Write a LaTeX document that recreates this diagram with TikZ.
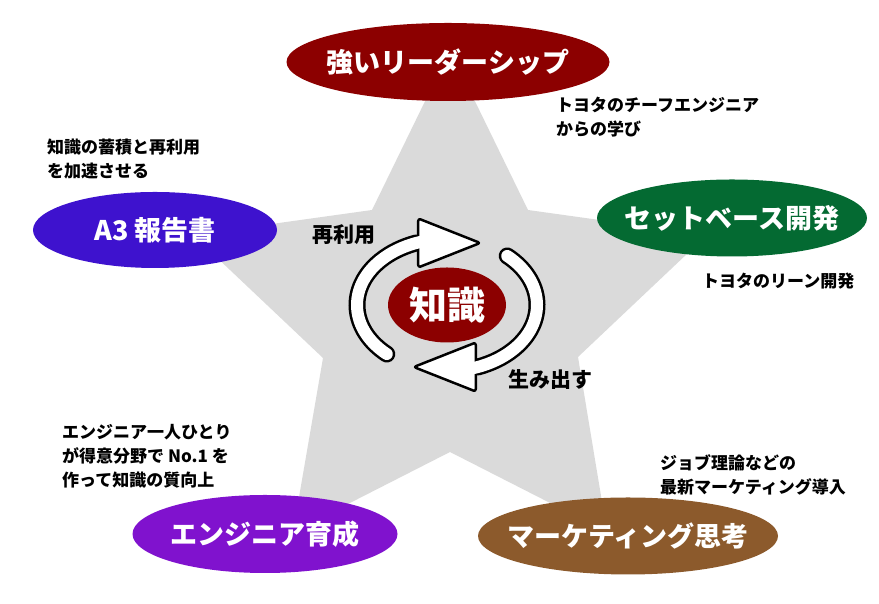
\documentclass[tikz,border=0pt]{standalone}
\usepackage{fontspec}
\setmainfont{Noto Sans CJK JP}
\usetikzlibrary{shapes.geometric}
\definecolor{starGray}{RGB}{218,218,218}
\definecolor{leadRed}{RGB}{140,0,0}
\definecolor{reportBlue}{RGB}{62,18,206}
\definecolor{leanGreen}{RGB}{4,106,50}
\definecolor{trainPurple}{RGB}{128,18,206}
\definecolor{mktBrown}{RGB}{140,90,44}
\begin{document}
\begin{tikzpicture}[x=1pt,y=1pt,
    pill/.style={ellipse, inner sep=0pt, text=white, font=\fontsize{27}{30}\selectfont\bfseries},
    note/.style={align=left, anchor=west, inner sep=0pt, font=\fontsize{17}{24}\selectfont\bfseries},
    cyc/.style={inner sep=0pt, font=\fontsize{21}{24}\selectfont\bfseries},
    head/.style={fill=white, draw=black, line width=2.5pt, rounded corners=2.5pt, line join=round}
  ]
  \useasboundingbox (0,0) rectangle (879,604);
  % star
  \fill[starGray] (450,554) -- (528,394) -- (707,369) -- (578,247) -- (607,72)
    -- (450,152) -- (293,72) -- (323,246) -- (193,369) -- (372,394) -- cycle;

  % the five points
  \node[pill, fill=leadRed, minimum width=323, minimum height=78] (lead) at (448,542) {\makebox[0pt]{強いリーダーシップ}};
  \node[pill, fill=reportBlue, minimum width=244, minimum height=76] (report) at (155,374) {\makebox[0pt]{A3 報告書}};
  \node[pill, fill=leanGreen, minimum width=270, minimum height=77] (setbase) at (732,386) {\makebox[0pt]{セットベース開発}};
  \node[pill, fill=trainPurple, minimum width=265, minimum height=78] (train) at (265,70) {\makebox[0pt]{エンジニア育成}};
  \node[pill, fill=mktBrown, minimum width=300, minimum height=77] (mkt) at (628,68) {\makebox[0pt]{マーケティング思考}};

  % notes
  \node[note] (leadNote) at (556,486.5) {トヨタのチーフエンジニア\\からの学び};
  \node[note] (reportNote) at (47,445) {知識の蓄積と再利用\\を加速させる};
  \node[note] (setbaseNote) at (702,323) {トヨタのリーン開発};
  \node[note] (trainNote) at (62,148) {エンジニア一人ひとり\\が得意分野で No.1 を\\作って知識の質向上};
  \node[note] (mktNote) at (660,129) {ジョブ理論などの\\最新マーケティング導入};

  % knowledge cycle
  \node[pill, fill=leadRed, minimum width=118, minimum height=75, font=\fontsize{38}{40}\selectfont\bfseries] (know) at (447,299) {\makebox[0pt]{知識}};
  \path (know.center) ++(110:90 and 66) coordinate (reuseEnd);
  \path (know.center) ++(-70:90 and 66) coordinate (makeEnd);

  \draw[line width=17pt, line cap=round] (know.center) ++(228:90 and 66) arc[start angle=228, end angle=110, x radius=90, y radius=66];
  \draw[line width=17pt, line cap=round] (know.center) ++(48:90 and 66) arc[start angle=48, end angle=-70, x radius=90, y radius=66];
  \draw[head] (reuseEnd) ++(2,24.5) -- ++(62,-24.5) -- ++(-62,-24.5) -- cycle;
  \draw[head] (makeEnd) ++(-2,24.5) -- ++(-62,-24.5) -- ++(62,-24.5) -- cycle;
  \draw[white, line width=12pt, line cap=round] (know.center) ++(228:90 and 66) arc[start angle=228, end angle=104, x radius=90, y radius=66];
  \draw[white, line width=12pt, line cap=round] (know.center) ++(48:90 and 66) arc[start angle=48, end angle=-76, x radius=90, y radius=66];

  \node[cyc] (reuseLbl) at (344,369) {再利用};
  \node[cyc] (makeLbl) at (550,224) {生み出す};
\end{tikzpicture}
\end{document}
